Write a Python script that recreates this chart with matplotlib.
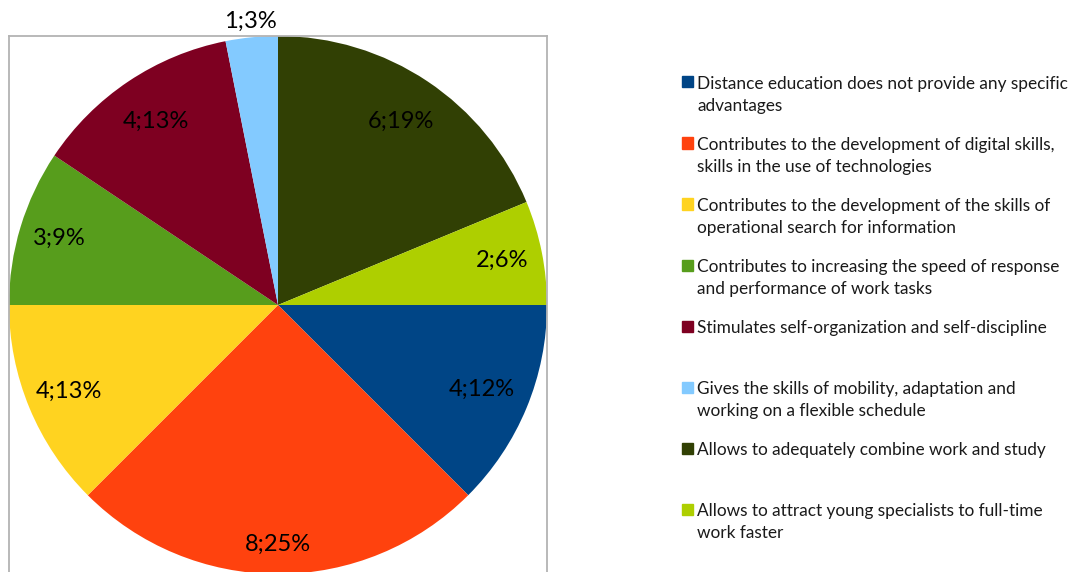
import numpy as np
import matplotlib.pyplot as plt
from matplotlib.patches import Rectangle

plt.rcParams['font.family'] = ['Lato', 'DejaVu Sans']

# data
categories = [
    'Distance education does not provide any specific\nadvantages',
    'Contributes to the development of digital skills,\nskills in the use of technologies',
    'Contributes to the development of the skills of\noperational search for information',
    'Contributes to increasing the speed of response\nand performance of work tasks',
    'Stimulates self-organization and self-discipline',
    'Gives the skills of mobility, adaptation and\nworking on a flexible schedule',
    'Allows to adequately combine work and study',
    'Allows to attract young specialists to full-time\nwork faster',
]
counts = [4, 8, 4, 3, 4, 1, 6, 2]
percents = [12, 25, 13, 9, 13, 3, 19, 6]

colors = ['#004586', '#ff420e', '#ffd320', '#579d1c',
          '#7e0021', '#83caff', '#314004', '#aecf00']
# distance of each value label from the centre (fraction of radius)
label_r = [0.82, 0.89, 0.84, 0.85, 0.82, 1.06, 0.82, 0.85]

W, H = 1077, 572
fig = plt.figure(figsize=(W / 100, H / 100), dpi=100)

# pie centred at (278, 305) px, radius 269 px
cx, cy, r = 278, 305, 269
ax = fig.add_axes([(cx - r) / W, (H - cy - r) / H, 2 * r / W, 2 * r / H])
wedges, _ = ax.pie(counts, colors=colors, startangle=0, counterclock=False,
                   radius=1, frame=True, wedgeprops=dict(linewidth=0))
ax.set_xlim(-1, 1)
ax.set_ylim(-1, 1)
ax.set_xticks([])
ax.set_yticks([])
for s in ax.spines.values():
    s.set_color('#b3b3b3')
    s.set_linewidth(1.3)

for w, n, p, lr in zip(wedges, counts, percents, label_r):
    mid = np.deg2rad((w.theta1 + w.theta2) / 2)
    ax.text(lr * np.cos(mid), lr * np.sin(mid), f'{n};{p}%',
            ha='center', va='center', fontsize=17, color='black',
            clip_on=False)

# legend, drawn by hand so markers line up with the first text line
y0, step = 82, 61
for i, (lab, c) in enumerate(zip(categories, colors)):
    y = y0 + i * step
    fig.patches.append(Rectangle(((682) / W, 1 - (y + 5.5) / H), 11 / W, 11 / H,
                                 transform=fig.transFigure, color=c))
    fig.text(697 / W, 1 - (y - 6) / H, lab, ha='left', va='top',
             fontsize=12.4, color='#1a1a1a', linespacing=1.44)

fig.savefig('out.png', dpi=100)
